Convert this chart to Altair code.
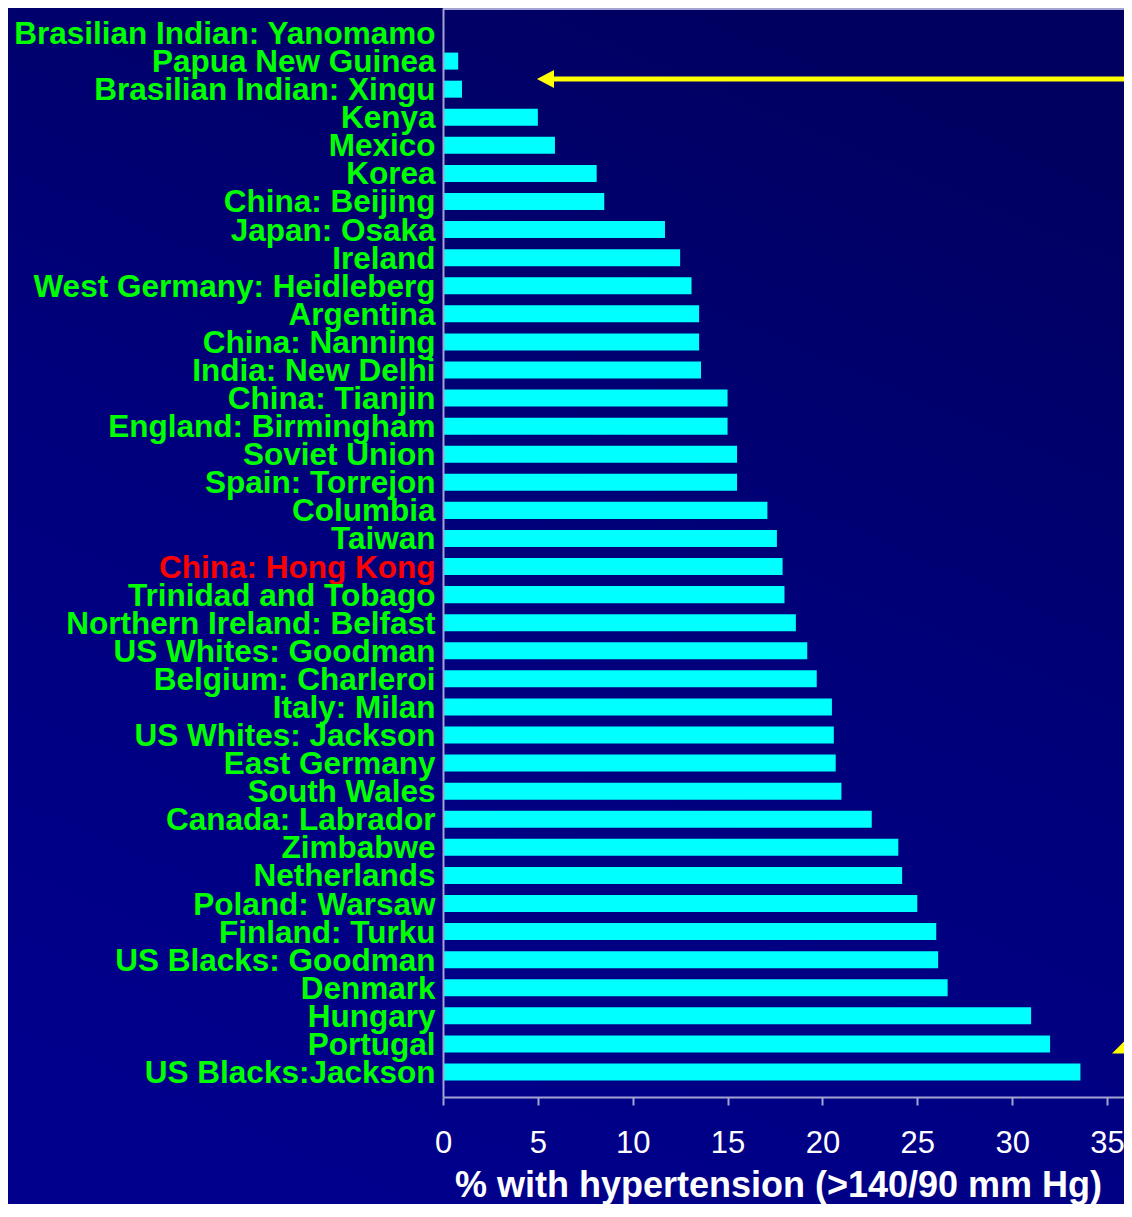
import altair as alt
import pandas as pd

countries = [
    "Brasilian Indian: Yanomamo", "Papua New Guinea", "Brasilian Indian: Xingu",
    "Kenya", "Mexico", "Korea", "China: Beijing", "Japan: Osaka", "Ireland",
    "West Germany: Heidleberg", "Argentina", "China: Nanning", "India: New Delhi",
    "China: Tianjin", "England: Birmingham", "Soviet Union", "Spain: Torrejon",
    "Columbia", "Taiwan", "China: Hong Kong", "Trinidad and Tobago",
    "Northern Ireland: Belfast", "US Whites: Goodman", "Belgium: Charleroi",
    "Italy: Milan", "US Whites: Jackson", "East Germany", "South Wales",
    "Canada: Labrador", "Zimbabwe", "Netherlands", "Poland: Warsaw",
    "Finland: Turku", "US Blacks: Goodman", "Denmark", "Hungary", "Portugal",
    "US Blacks:Jackson",
]
values = [
    0.0, 0.8, 1.0, 5.0, 5.9, 8.1, 8.5, 11.7, 12.5, 13.1, 13.5, 13.5, 13.6,
    15.0, 15.0, 15.5, 15.5, 17.1, 17.6, 17.9, 18.0, 18.6, 19.2, 19.7, 20.5,
    20.6, 20.7, 21.0, 22.6, 24.0, 24.2, 25.0, 26.0, 26.1, 26.6, 31.0, 32.0,
    33.6,
]
highlight = "China: Hong Kong"
tick_values = [0, 5, 10, 15, 20, 25, 30, 35]
x_title = "% with hypertension (>140/90 mm Hg)"

df = pd.DataFrame({"country": countries, "pct": values})

PX_PER_UNIT = 18.971
W = 681
H = 1089
LEFT = 435
BOTTOM = 107
XMAX = W / PX_PER_UNIT

FONT = "Liberation Sans"
FRAME = "#a4a4d4"

x_scale = alt.Scale(domain=[0, XMAX], nice=False, zero=True)
y_scale = alt.Scale(domain=countries, paddingInner=0.394, paddingOuter=0.588)

bg = alt.Chart(pd.DataFrame({"a": [0]})).mark_rect(
    color=alt.LinearGradient(
        gradient="linear",
        stops=[
            alt.GradientStop(color="#000060", offset=0),
            alt.GradientStop(color="#00007c", offset=0.5),
            alt.GradientStop(color="#00008c", offset=1),
        ],
        x1=0.7, y1=0, x2=0.3, y2=1,
    )
).encode(
    x=alt.value(-LEFT), x2=alt.value(W), y=alt.value(0), y2=alt.value(H + BOTTOM)
)

top_rule = alt.Chart(pd.DataFrame({"a": [0]})).mark_rule(
    color=FRAME, strokeWidth=2
).encode(x=alt.value(0), x2=alt.value(W), y=alt.value(1))

bars = alt.Chart(df).mark_bar(color="#00ffff").encode(
    x=alt.X(
        "pct:Q",
        scale=x_scale,
        axis=alt.Axis(
            values=tick_values,
            title=x_title,
            grid=False,
            zindex=1,
            labelFont=FONT,
            labelFontSize=31,
            labelColor="#ffffff",
            labelFlush=False,
            labelPadding=23,
            tickColor=FRAME,
            tickSize=8,
            tickWidth=2,
            domainColor=FRAME,
            domainWidth=2,
            titleFont=FONT,
            titleFontSize=36,
            titleFontWeight="bold",
            titleColor="#ffffff",
            titleBaseline="alphabetic",
            titleY=99,
            titleX=335,
        ),
    ),
    y=alt.Y(
        "country:N",
        sort=countries,
        scale=y_scale,
        axis=alt.Axis(
            title=None,
            ticks=False,
            grid=False,
            zindex=1,
            labelFont=FONT,
            labelFontSize=31.5,
            labelFontWeight="bold",
            labelColor={"expr": f"datum.value == '{highlight}' ? '#ff0000' : '#00ff00'"},
            labelPadding=8,
            labelOffset=2,
            labelLimit=1000,
            domainColor=FRAME,
            domainWidth=2,
        ),
    ),
)

arrow_df = pd.DataFrame({"tip": [4.95], "start": [5.6], "end": [XMAX]})
arrow_line = alt.Chart(arrow_df).mark_rule(color="#ffff00", strokeWidth=5).encode(
    x=alt.X("start:Q", scale=x_scale), x2="end:Q", y=alt.value(71)
)
arrow_head = alt.Chart(arrow_df).mark_point(
    shape="M0,0L1.9,-1L1.9,1Z", size=324, filled=True, color="#ffff00",
    opacity=1, strokeWidth=0,
).encode(x=alt.X("tip:Q", scale=x_scale), y=alt.value(71))

tri_df = pd.DataFrame({"xpos": [36.32]})
tri = alt.Chart(tri_df).mark_point(
    shape="M-1,0.5L0,-0.5L1,0.5Z", size=1600, filled=True, color="#ffff00",
    opacity=1, strokeWidth=0,
).encode(x=alt.X("xpos:Q", scale=x_scale), y=alt.value(1035.5))

chart = alt.layer(bg, top_rule, bars, arrow_line, arrow_head, tri).properties(
    width=W,
    height=H,
    autosize=alt.AutoSizeParams(type="none"),
    padding={"left": LEFT, "top": 0, "right": 0, "bottom": BOTTOM},
    background="#000070",
).configure_view(stroke=None)

chart.save("out.html", embed_options={"renderer": "svg", "actions": False})
